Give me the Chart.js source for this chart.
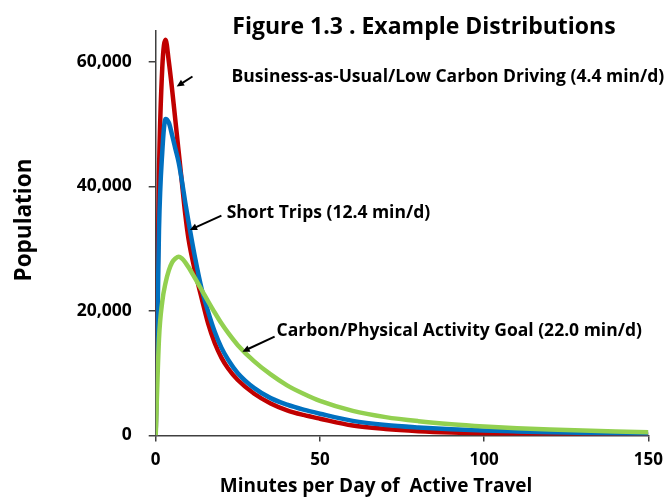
<!DOCTYPE html>
<html>
<head>
<meta charset="utf-8">
<script src="https://cdn.jsdelivr.net/npm/chart.js@4.4.1/dist/chart.umd.min.js"></script>
<style>
  html, body { margin: 0; padding: 0; background: #fff; }
</style>
</head>
<body>
<canvas id="chart" width="671" height="504"></canvas>
<script>
// minutes per day of active travel
const minutes = [0, 1, 2, 3, 4, 5, 6, 7, 8, 9, 10, 12, 14, 16, 18, 20, 22, 25, 30, 35, 40, 45, 50, 60, 70, 80, 90, 100, 110, 120, 130, 140, 150];

// population per scenario
const businessAsUsual = [0, 42000, 59000, 63500, 60000, 55500, 50500, 45500, 40500, 35500, 31500, 26300, 22000, 17900, 14800, 12500, 10800, 8900, 6700, 5150, 4050, 3300, 2700, 1600, 1050, 700, 470, 320, 240, 180, 140, 110, 90];
const shortTrips = [0, 33000, 45500, 50800, 50200, 48200, 46000, 43800, 40800, 37400, 34300, 28500, 23500, 19800, 16600, 14100, 12200, 10000, 7600, 6000, 4950, 4150, 3500, 2350, 1700, 1300, 1000, 800, 650, 520, 420, 330, 260];
const activityGoal = [0, 15500, 21500, 24500, 26500, 27800, 28400, 28700, 28400, 27800, 27000, 25200, 23350, 21500, 19700, 18000, 16500, 14500, 11900, 9800, 8050, 6700, 5550, 3950, 2950, 2300, 1820, 1460, 1180, 960, 790, 650, 530];

const xTicks = [0, 50, 100, 150];
const yTicks = [0, 20000, 40000, 60000];

const FONT = "'Open Sans', Lato, sans-serif";

function pts(values) {
  return minutes.map((m, i) => ({ x: m, y: values[i] }));
}

// callouts: text anchored at data coords, arrow from tail to tip
const notes = [
  { text: 'Business-as-Usual/Low Carbon Driving (4.4 min/d)', x: 23.1, y: 57550, tail: [11.2, 57620], tip: [6.4, 56020] },
  { text: 'Short Trips (12.4 min/d)', x: 21.6, y: 35740, tail: [20.0, 35300], tip: [10.4, 33000] },
  { text: 'Carbon/Physical Activity Goal (22.0 min/d)', x: 36.8, y: 16780, tail: [36.2, 15870], tip: [26.4, 13460] }
];

function drawArrow(ctx, x1, y1, x2, y2) {
  const ang = Math.atan2(y2 - y1, x2 - x1);
  const len = 8;
  ctx.beginPath();
  ctx.moveTo(x1, y1);
  ctx.lineTo(x2 - Math.cos(ang) * 5, y2 - Math.sin(ang) * 5);
  ctx.lineWidth = 2;
  ctx.strokeStyle = '#000';
  ctx.stroke();
  ctx.beginPath();
  ctx.moveTo(x2, y2);
  ctx.lineTo(x2 - len * Math.cos(ang - 0.45), y2 - len * Math.sin(ang - 0.45));
  ctx.lineTo(x2 - len * Math.cos(ang + 0.45), y2 - len * Math.sin(ang + 0.45));
  ctx.closePath();
  ctx.fillStyle = '#000';
  ctx.fill();
}

const notesPlugin = {
  id: 'notes',
  afterDraw(chart) {
    const { ctx, scales: { x, y } } = chart;
    ctx.save();
    ctx.fillStyle = '#000';

    // title
    ctx.font = 'bold 23px ' + FONT;
    ctx.textAlign = 'center';
    ctx.textBaseline = 'middle';
    ctx.fillText('Figure 1.3 . Example Distributions', 424, 27);

    // axis titles
    ctx.font = 'bold 19px ' + FONT;
    ctx.fillText('Minutes per Day of  Active Travel', 376, 487);
    ctx.save();
    ctx.translate(25, 220);
    ctx.rotate(-Math.PI / 2);
    ctx.font = 'bold 22.5px ' + FONT;
    ctx.fillText('Population', 0, 0);
    ctx.restore();

    // callouts
    ctx.font = 'bold 17.5px ' + FONT;
    ctx.textAlign = 'left';
    for (const n of notes) {
      ctx.fillStyle = '#000';
      ctx.fillText(n.text, x.getPixelForValue(n.x), y.getPixelForValue(n.y));
      drawArrow(ctx,
        x.getPixelForValue(n.tail[0]), y.getPixelForValue(n.tail[1]),
        x.getPixelForValue(n.tip[0]), y.getPixelForValue(n.tip[1]));
    }
    ctx.restore();
  }
};

const line = (values, color, order) => ({
  data: pts(values),
  borderColor: color,
  backgroundColor: color,
  borderWidth: 4.5,
  pointRadius: 0,
  cubicInterpolationMode: 'monotone',
  order: order
});

new Chart(document.getElementById('chart'), {
  type: 'line',
  data: {
    datasets: [
      line(businessAsUsual, '#C00000', 3),
      line(shortTrips, '#0070C0', 2),
      line(activityGoal, '#92D050', 1)
    ]
  },
  options: {
    responsive: false,
    animation: false,
    layout: { padding: { top: 30.5, right: 20, left: 0, bottom: 0 } },
    plugins: { legend: { display: false }, tooltip: { enabled: false } },
    scales: {
      x: {
        type: 'linear',
        min: 0,
        max: 150,
        afterBuildTicks: s => { s.ticks = xTicks.map(v => ({ value: v })); },
        afterFit: s => { s.height = 68.5; },
        ticks: { color: '#000', padding: 8, font: { family: FONT, size: 17, weight: 'bold' } },
        grid: { drawOnChartArea: false, tickLength: 6, color: '#404040', lineWidth: 1.5 },
        border: { color: '#404040', width: 1.5 }
      },
      y: {
        min: 0,
        max: 65000,
        afterBuildTicks: s => { s.ticks = yTicks.map(v => ({ value: v })); },
        afterFit: s => { s.width = 155.7; },
        ticks: {
          color: '#000',
          padding: 17,
          font: { family: FONT, size: 17.5, weight: 'bold' },
          callback: v => v.toLocaleString('en-US')
        },
        grid: { drawOnChartArea: false, tickLength: 7, color: '#404040', lineWidth: 1.5 },
        border: { color: '#404040', width: 1.5 }
      }
    }
  },
  plugins: [notesPlugin]
});
</script>
</body>
</html>
